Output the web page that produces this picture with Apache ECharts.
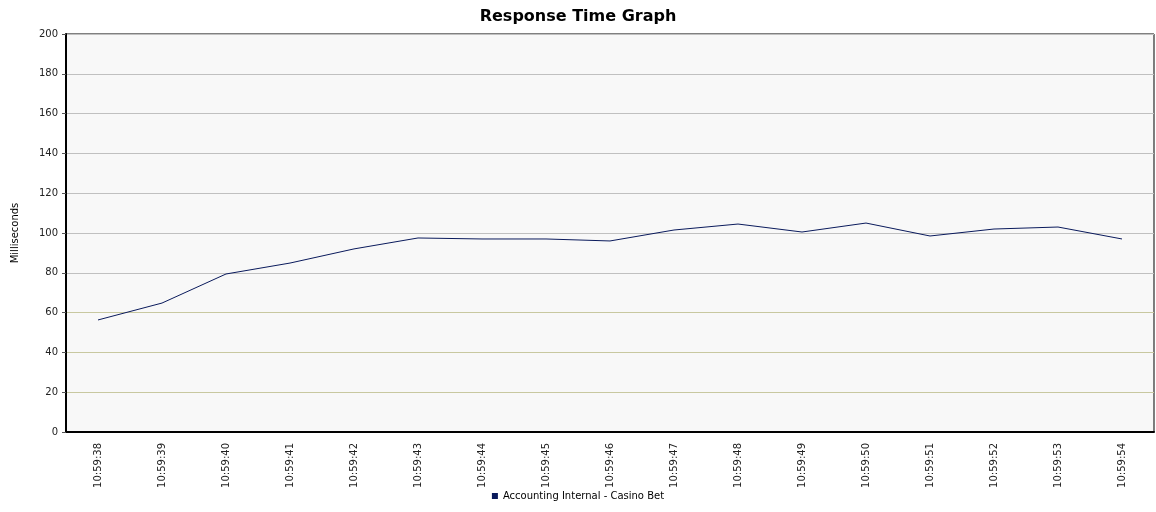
<!DOCTYPE html>
<html>
<head>
<meta charset="utf-8">
<script src="https://cdn.jsdelivr.net/npm/echarts@6/dist/echarts.min.js"></script>
<style>html,body{margin:0;padding:0;background:#fff}#chart{width:1156px;height:512px}</style>
</head>
<body>
<div id="chart"></div>
<script>
let categories = ['10:59:38','10:59:39','10:59:40','10:59:41','10:59:42','10:59:43','10:59:44','10:59:45','10:59:46','10:59:47','10:59:48','10:59:49','10:59:50','10:59:51','10:59:52','10:59:53','10:59:54'];
let responseTimes = [56.3, 64.8, 79.4, 84.9, 92, 97.5, 97, 97, 96, 101.5, 104.5, 100.5, 105, 98.5, 102, 103, 97];
let seriesName = 'Accounting Internal - Casino Bet';

let olive = '#c8c8a0', gray = '#c0c0c0';
let chart = echarts.init(document.getElementById('chart'));
chart.setOption({
    animation: false,
    title: {text: 'Response Time Graph', left: 'center', top: 4,
        textStyle: {fontFamily: 'DejaVu Sans', fontSize: 16, fontWeight: 'bold', color: '#000'}},
    grid: {left: 66, right: 2, top: 34, bottom: 80, backgroundColor: '#f8f8f8', show: true, borderColor: '#000', borderWidth: 1},
    legend: {bottom: 6, left: 'center', icon: 'rect', itemWidth: 6, itemHeight: 6,
        textStyle: {fontFamily: 'DejaVu Sans', fontSize: 10, color: '#000'}},
    xAxis: {type: 'category', data: categories, boundaryGap: true,
        axisLine: {lineStyle: {color: '#000', width: 2}},
        axisTick: {alignWithLabel: true, length: 5, lineStyle: {color: '#555'}},
        axisLabel: {rotate: 90, fontFamily: 'DejaVu Sans', fontSize: 10, color: '#222', margin: 11}},
    yAxis: {type: 'value', min: 0, max: 200, interval: 20, name: 'Milliseconds', nameLocation: 'middle', nameGap: 46,
        nameTextStyle: {fontFamily: 'DejaVu Sans', fontSize: 10, color: '#000'},
        axisLine: {show: true, lineStyle: {color: '#000', width: 2}},
        axisTick: {show: true, length: 4, lineStyle: {color: '#555'}},
        axisLabel: {fontFamily: 'DejaVu Sans', fontSize: 10, color: '#222'},
        splitLine: {lineStyle: {color: [gray, olive, olive, olive, gray, gray, gray, gray, gray, gray, gray]}}},
    series: [{name: seriesName, type: 'line', data: responseTimes, symbol: 'none',
        lineStyle: {color: '#0a1a5c', width: 1}, itemStyle: {color: '#0a1a5c'}}]
});
</script>
</body>
</html>
